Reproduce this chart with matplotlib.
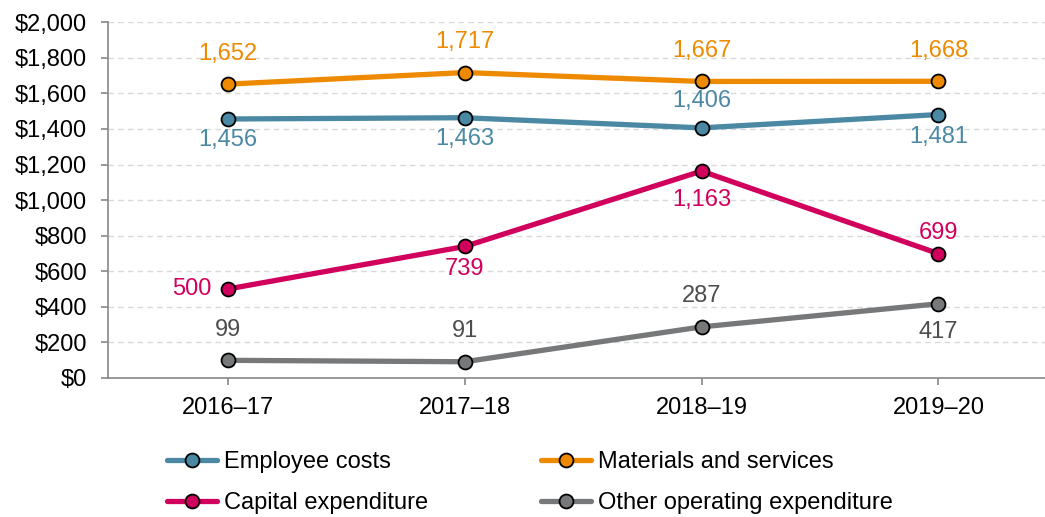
import matplotlib.pyplot as plt
from matplotlib.ticker import FuncFormatter

plt.rcParams['font.family'] = ['Liberation Sans', 'DejaVu Sans']

years = ['2016–17', '2017–18', '2018–19', '2019–20']
employee = [1456, 1463, 1406, 1481]
materials = [1652, 1717, 1667, 1668]
capital = [500, 739, 1163, 699]
other = [99, 91, 287, 417]

# label offsets in points (dx, dy) from each marker
emp_off = [(0, -15), (0, -15), (0, 19), (0, -16)]
mat_off = [(0, 22), (0, 22), (0, 22), (0, 22)]
cap_off = [(-12, 0), (0, -16), (0, -21), (0, 15)]
oth_off = [(0, 22), (0, 22), (0, 22), (0, -20)]

series = [
    ('Employee costs', employee, '#4a88a4', '#4a88a4', emp_off),
    ('Materials and services', materials, '#ee8a00', '#ee8a00', mat_off),
    ('Capital expenditure', capital, '#d0005c', '#d0005c', cap_off),
    ('Other operating expenditure', other, '#76787a', '#4d4d4d', oth_off),
]

fig = plt.figure(figsize=(10.45, 5.17), dpi=100)
ax = fig.add_axes([0.1033, 0.269, 0.8967, 0.688])
x = range(len(years))

lines = {}
for name, vals, col, tcol, offs in series:
    ln, = ax.plot(x, vals, color=col, lw=3.8, marker='o', ms=10, mfc=col, mec='black', mew=1.3,
                  label=name, zorder=3, solid_capstyle='round')
    lines[name] = ln
    for i, (v, (dx, dy)) in enumerate(zip(vals, offs)):
        ha = 'right' if dx < 0 else 'center'
        ax.annotate(f'{v:,}', (i, v), xytext=(dx, dy), textcoords='offset points',
                    ha=ha, va='center', fontsize=17, color=tcol)

ax.set_ylim(0, 2000)
ax.set_xlim(-0.506, 3.45)
ax.set_yticks(range(0, 2001, 200))
ax.yaxis.set_major_formatter(FuncFormatter(lambda v, p: f'${int(v):,}'))
ax.set_xticks(list(x))
ax.set_xticklabels(years)
ax.tick_params(labelsize=17, colors='#888888', labelcolor='black', length=5, width=1.2)
ax.tick_params(axis='x', pad=9)
ax.tick_params(axis='y', pad=10)
ax.grid(axis='y', color='#d9d9d9', ls=(0, (4, 3)), lw=1)
ax.set_axisbelow(True)
for s in ['top', 'right']:
    ax.spines[s].set_visible(False)
for s in ['left', 'bottom']:
    ax.spines[s].set_color('#888888')
    ax.spines[s].set_linewidth(1.2)

order = ['Employee costs', 'Capital expenditure', 'Materials and services', 'Other operating expenditure']
fig.legend([lines[n] for n in order], order, loc='center', bbox_to_anchor=(0.507, 0.066), ncol=2,
           frameon=False, fontsize=17, handlelength=2.1, handletextpad=0.3,
           columnspacing=4.8, labelspacing=0.8, borderaxespad=0)

fig.savefig('out.png', dpi=100)
